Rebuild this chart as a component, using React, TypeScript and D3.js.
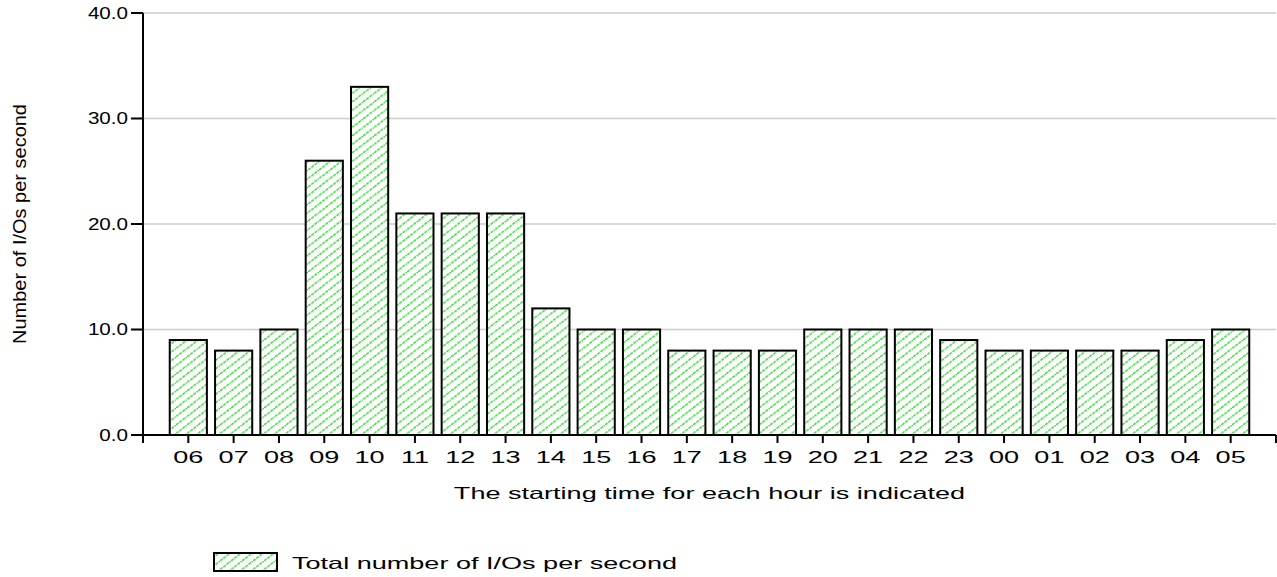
import React from "react";
import * as d3 from "d3";

const hours = ["06","07","08","09","10","11","12","13","14","15","16","17","18","19","20","21","22","23","00","01","02","03","04","05"];
const ioRates = [9,8,10,26,33,21,21,21,12,10,10,8,8,8,10,10,10,9,8,8,8,8,9,10];
const yTicks = [0,10,20,30,40];

const W = 1277, H = 577;
const x0 = 143, x1 = 1276, yTop = 13, yBot = 435;
const font = "Liberation Sans, Arial, sans-serif";
const fs = 16.5;
const sx = 1.64;

export default function App() {
  const x = d3.scalePoint<string>().domain(hours).range([x0, x1]).padding(1);
  const y = d3.scaleLinear().domain([0, 40]).range([yBot, yTop]);
  const bw = x.step() * 0.82;
  const xTickPos = [x0, ...hours.map(h => x(h) as number), x1];
  return (
    <svg width={W} height={H} style={{ position: "absolute", left: 0, top: 0, background: "#fff" }}>
      <defs>
        <pattern id="hatch" patternUnits="userSpaceOnUse" width={11} height={8.5}>
          <rect width={11} height={8.5} fill="#fff" />
          <path d="M-3,10.8 L14,-2.3" stroke="#33e033" strokeWidth={1.5} strokeDasharray="3,1" />
        </pattern>
      </defs>
      {yTicks.filter(t => t > 0).map(t => (
        <line key={t} x1={x0} x2={x1} y1={y(t)} y2={y(t)} stroke="#cccccc" strokeWidth={1.5} />
      ))}
      {hours.map((h, i) => (
        <rect key={h} x={(x(h) as number) - bw / 2} y={y(ioRates[i])} width={bw} height={yBot - y(ioRates[i])}
          fill="url(#hatch)" stroke="#000" strokeWidth={2} />
      ))}
      <line x1={x0} x2={x0} y1={yTop} y2={yBot} stroke="#000" strokeWidth={2} />
      <line x1={x0} x2={x1} y1={yBot} y2={yBot} stroke="#000" strokeWidth={2} />
      {yTicks.map(t => (
        <g key={t}>
          <line x1={131} x2={x0} y1={y(t)} y2={y(t)} stroke="#000" strokeWidth={2} />
          <text transform={`translate(128,${y(t)}) scale(1.25,1)`} dy="0.35em" textAnchor="end" fontFamily={font} fontSize={fs}>{t.toFixed(1)}</text>
        </g>
      ))}
      {xTickPos.map((p, i) => (
        <line key={i} x1={p} x2={p} y1={yBot} y2={yBot + 8} stroke="#000" strokeWidth={2} />
      ))}
      {hours.map(h => (
        <text key={h} transform={`translate(${x(h) as number},463) scale(${sx},1)`} textAnchor="middle" fontFamily={font} fontSize={fs}>{h}</text>
      ))}
      <text transform={`translate(${(x0 + x1) / 2},499) scale(${sx},1)`} textAnchor="middle" fontFamily={font} fontSize={fs}>The starting time for each hour is indicated</text>
      <text transform={`translate(26,${(yTop + yBot) / 2}) rotate(-90)`} textAnchor="middle" fontFamily={font} fontSize={18.5} textLength={240} lengthAdjust="spacingAndGlyphs">Number of I/Os per second</text>
      <rect x={214} y={553} width={63} height={18} fill="url(#hatch)" stroke="#000" strokeWidth={2} />
      <text transform={`translate(292,569) scale(${sx},1)`} fontFamily={font} fontSize={fs}>Total number of I/Os per second</text>
    </svg>
  );
}
